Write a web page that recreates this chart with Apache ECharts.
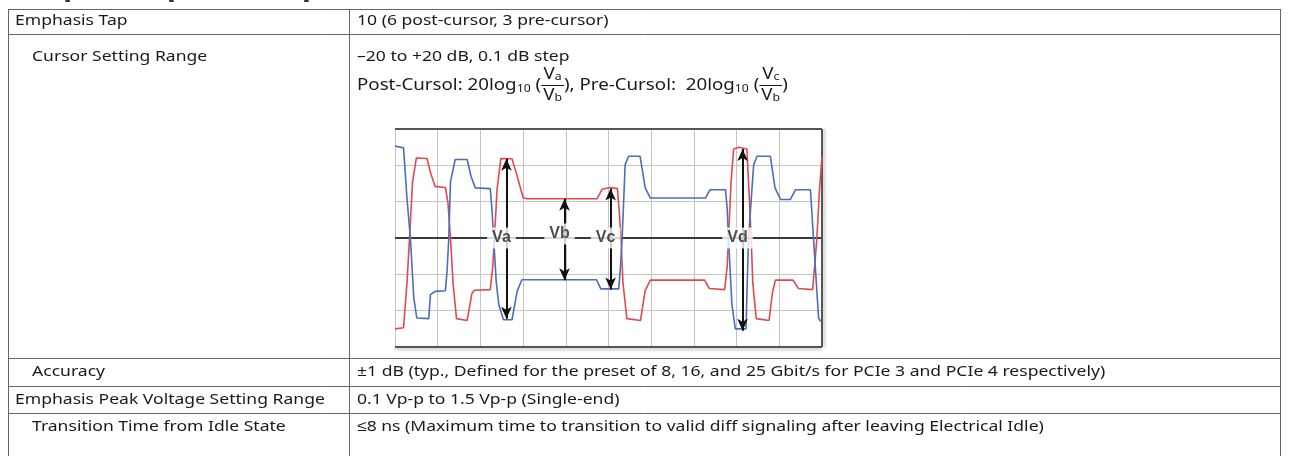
<!DOCTYPE html>
<html>
<head>
<meta charset="utf-8">
<script src="https://cdn.jsdelivr.net/npm/echarts@6/dist/echarts.min.js"></script>
<style>
html,body{margin:0;padding:0;background:#fff;}
#main{width:1289px;height:456px;}
</style>
</head>
<body>
<div id="main"></div>
<script>
// ---------- DATA ----------
const heading = 'Output Emphasis (Option 014)';
const rowLabels = ['Emphasis Tap', 'Cursor Setting Range', 'Accuracy', 'Emphasis Peak Voltage Setting Range', 'Transition Time from Idle State'];
const rowIndent = [0, 1, 1, 0, 1];
const rowValues = [
  '10 (6 post-cursor, 3 pre-cursor)',
  '\u201320 to +20 dB, 0.1 dB step',
  '\u00b11 dB (typ., Defined for the preset of 8, 16, and 25 Gbit/s for PCIe 3 and PCIe 4 respectively)',
  '0.1 Vp-p to 1.5 Vp-p (Single-end)',
  '\u22648 ns (Maximum time to transition to valid diff signaling after leaving Electrical Idle)'
];
// scope screen divisions
const xDivTicks = [0, 1, 2, 3, 4, 5, 6, 7, 8, 9, 10];
const yDivTicks = [-3, -2, -1, 0, 1, 2, 3];
// waveform traces: [time div, volt div]
const redTrace = [[0,-2.5],[0.2,-2.47],[0.28,-1.25],[0.34,0],[0.41,1.53],[0.5,2.2],[0.75,2.19],[0.83,1.8],[0.94,1.42],[1.18,1.39],[1.24,0.97],[1.3,0],[1.36,-1.25],[1.44,-2.22],[1.69,-2.27],[1.8,-1.53],[1.86,-1.44],[2.23,-1.42],[2.29,-0.79],[2.33,0],[2.39,1.34],[2.48,2.19],[2.74,2.18],[2.86,1.71],[3.0,1.11],[3.09,1.08],[4.73,1.08],[4.85,1.34],[5.04,1.39],[5.21,1.36],[5.26,0.6],[5.29,0],[5.34,-1.25],[5.43,-2.22],[5.75,-2.27],[5.86,-1.44],[5.98,-1.16],[7.25,-1.16],[7.36,-1.39],[7.72,-1.42],[7.78,-0.79],[7.81,0],[7.87,1.53],[7.93,2.45],[8.05,2.5],[8.24,2.45],[8.3,1.06],[8.34,0],[8.38,-1.25],[8.46,-2.22],[8.76,-2.27],[8.84,-1.5],[8.91,-1.16],[9.32,-1.16],[9.45,-1.39],[9.78,-1.42],[9.84,-0.6],[9.88,0],[9.94,1.3],[10,2.25]];
const blueTrace = [[0,2.53],[0.2,2.48],[0.28,1.1],[0.36,0],[0.44,-1.65],[0.51,-2.2],[0.79,-2.22],[0.83,-1.56],[0.94,-1.47],[1.18,-1.45],[1.22,-0.9],[1.26,0],[1.3,1.56],[1.41,2.16],[1.69,2.16],[1.78,1.7],[1.88,1.38],[2.23,1.36],[2.27,0.8],[2.31,0],[2.37,-1.2],[2.43,-1.83],[2.54,-2.25],[2.74,-2.25],[2.86,-1.47],[2.97,-1.15],[4.72,-1.15],[4.82,-1.4],[5.24,-1.4],[5.28,-0.8],[5.32,0],[5.39,2.02],[5.47,2.25],[5.74,2.25],[5.86,1.38],[5.98,1.1],[7.27,1.1],[7.38,1.33],[7.74,1.33],[7.78,0.8],[7.81,0],[7.89,-1.83],[7.97,-2.5],[8.22,-2.5],[8.25,-1.2],[8.28,0],[8.4,2.02],[8.48,2.25],[8.79,2.25],[8.9,1.38],[9.03,1.06],[9.26,1.06],[9.38,1.33],[9.73,1.33],[9.8,0],[9.92,-2.2],[9.97,-2.3]];
// measurement arrows: name, time div, top, bottom
const arrowNames = ['Va', 'Vb', 'Vc', 'Vd'];
const arrowX = [2.61, 3.97, 5.05, 8.14];
const arrowTop = [2.18, 1.08, 1.36, 2.45];
const arrowBottom = [-2.22, -1.16, -1.42, -2.55];

// ---------- LAYOUT / STYLE ----------
const FONT = '"Noto Sans", sans-serif';
const FS = 15;
const FS_FORMULA = 16;
const SX = 1.17;
const TL = 8, TSPLIT = 349, TR = 1280;
const rowLines = [9, 34, 358, 386, 413];
const lineColor = '#666';
const textColor = '#1a1a1a';
const labelLift = {Vb: -4};

const cv = document.createElement('canvas').getContext('2d');
function tw(s, size, weight, sx) { cv.font = (weight || 'normal') + ' ' + size + 'px "Noto Sans"'; return cv.measureText(s).width * (sx || SX); }

const g = [];
function hline(y, x1, x2) { g.push({type:'line', shape:{x1:x1, y1:y+0.5, x2:x2, y2:y+0.5}, style:{stroke:lineColor, lineWidth:1}, silent:true}); }
function vline(x, y1, y2) { g.push({type:'line', shape:{x1:x+0.5, y1:y1, x2:x+0.5, y2:y2}, style:{stroke:lineColor, lineWidth:1}, silent:true}); }
function txt(s, x, y, size, opt) {
  opt = opt || {};
  const sx = opt.sx || SX;
  g.push({type:'text', x:x, y:y, scaleX:sx, silent:true, z:10, style:{text:s, font:(opt.weight||'normal')+' '+size+'px '+FONT, fill:opt.color||textColor, verticalAlign:'middle', align:'left'}});
  return tw(s, size, opt.weight, sx);
}

// heading (mostly cut off at top of the picture)
txt(heading, TL, -11, 24, {weight:'bold', color:'#333', sx:1.23});

rowLines.forEach(y => hline(y, TL, TR + 1));
vline(TL, rowLines[0], 456);
vline(TSPLIT, rowLines[0], 456);
vline(TR, rowLines[0], 456);

const rowTextY = [21, 57, 372, 400, 427];
rowLabels.forEach((s, i) => txt(s, TL + 7 + rowIndent[i] * 17, rowTextY[i], FS));
rowValues.forEach((s, i) => txt(s, TSPLIT + 8, rowTextY[i], FS));

// formula line
(function () {
  let x = TSPLIT + 8;
  const y = 85;
  const F = FS_FORMULA;
  const sub = 10.5;
  function frac(num, ns, den, ds) {
    const wN = tw(num, F) + tw(ns, sub);
    const wD = tw(den, F) + tw(ds, sub);
    const w = Math.max(wN, wD) + 4;
    const xn = x + (w - wN) / 2;
    txt(num, xn, y - 11, F); txt(ns, xn + tw(num, F), y - 8, sub);
    const xd = x + (w - wD) / 2;
    txt(den, xd, y + 10, F); txt(ds, xd + tw(den, F), y + 13, sub);
    g.push({type:'line', shape:{x1:x, y1:y + 0.5, x2:x + w, y2:y + 0.5}, style:{stroke:textColor, lineWidth:1}, silent:true});
    x += w;
  }
  x += txt('Post-Cursol: 20log', x, y, F);
  x += txt('10', x, y + 4, sub);
  x += txt(' (', x, y, F);
  frac('V', 'a', 'V', 'b');
  x += txt('), Pre-Cursol:  20log', x, y, F);
  x += txt('10', x, y + 4, sub);
  x += txt(' (', x, y, F);
  frac('V', 'c', 'V', 'b');
  txt(')', x, y, F);
})();

// ---------- CHART ----------
const chart = echarts.init(document.getElementById('main'), null, {renderer:'canvas'});
chart.setOption({
  animation:false,
  backgroundColor:'#fff',
  graphic:g,
  grid:{left:395, top:129, width:427, height:218, show:false},
  xAxis:{type:'value', min:xDivTicks[0], max:xDivTicks[xDivTicks.length-1], interval:1,
    axisLine:{show:false}, axisTick:{show:false}, axisLabel:{show:false},
    splitLine:{show:true, lineStyle:{color:'#c4c4c4', width:1}}},
  yAxis:{type:'value', min:yDivTicks[0], max:yDivTicks[yDivTicks.length-1], interval:1,
    axisLine:{show:false}, axisTick:{show:false}, axisLabel:{show:false},
    splitLine:{show:true, lineStyle:{color:'#c4c4c4', width:1}}},
  series:[
    {type:'line', name:'frame', data:[], z:1, silent:true,
      markLine:{silent:true, z:1, symbol:'none', label:{show:false}, lineStyle:{color:'#555', width:2, type:'solid'},
        data:[
          {yAxis:yDivTicks[0], lineStyle:{color:'#555', width:2, shadowColor:'rgba(0,0,0,0.25)', shadowBlur:3, shadowOffsetY:2}},
          {yAxis:yDivTicks[yDivTicks.length-1], lineStyle:{color:'#555', width:2}},
          {yAxis:0, lineStyle:{color:'#3a3a3a', width:2}},
          {xAxis:xDivTicks[xDivTicks.length-1], lineStyle:{color:'#555', width:2, shadowColor:'rgba(0,0,0,0.25)', shadowBlur:3, shadowOffsetX:2}}
        ]}},
    {type:'line', name:'red', data:redTrace, showSymbol:false, symbol:'none', z:2,
      lineStyle:{color:'#e2494c', width:1.6}, silent:true},
    {type:'line', name:'blue', data:blueTrace, showSymbol:false, symbol:'none', z:2,
      lineStyle:{color:'#4d6dba', width:1.6}, silent:true},
    {type:'line', name:'arrows', data:[], z:3, silent:true,
      markLine:{silent:true, z:3, symbol:['arrow','arrow'], symbolSize:[8,12], label:{show:false},
        lineStyle:{color:'#111', width:2, type:'solid'},
        data:arrowNames.map((n, i) => [{coord:[arrowX[i], arrowTop[i]]}, {coord:[arrowX[i], arrowBottom[i]]}])}},
    {type:'scatter', name:'labels', z:10, symbolSize:0, silent:true,
      data:arrowNames.map((n, i) => ({name:n, value:[arrowX[i], 0], label:{offset:[-5, labelLift[n] || 0]}})),
      label:{show:true, position:'inside', formatter:'{b}',
        fontFamily:'"Liberation Sans", Arial, sans-serif', fontWeight:'bold', fontSize:16, color:'#222',
        backgroundColor:'#fff', padding:[3, 5, 2, 5]}}
  ]
});
</script>
</body>
</html>
